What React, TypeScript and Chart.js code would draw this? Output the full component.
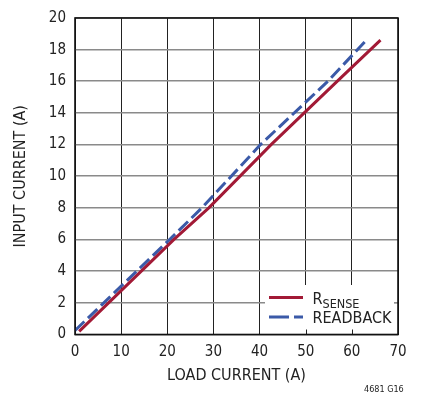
import { useEffect, useRef } from 'react';
import { Chart, registerables } from 'chart.js';

Chart.register(...registerables);

const xTicks = [0, 10, 20, 30, 40, 50, 60, 70];
const yTicks = [0, 2, 4, 6, 8, 10, 12, 14, 16, 18, 20];

const rsenseLoad = [0.9, 21.4, 29.0, 42.5, 56.8, 66.2];
const rsenseInput = [0.2, 6, 8, 12, 16, 18.6];
const readbackLoad = [0, 20.5, 27.5, 40.2, 54.8, 63.3];
const readbackInput = [0.25, 6, 8, 12, 16, 18.65];

const seriesNames = ['R', 'READBACK'];
const seriesSub = 'SENSE';
const xTitle = 'LOAD CURRENT (A)';
const yTitle = 'INPUT CURRENT (A)';
const footnote = '4681 G16';

const FONT = '"Liberation Sans Narrow", "Arial Narrow", "DejaVu Sans Condensed", sans-serif';
const RED = '#a21a36';
const BLUE = '#3b5aa8';

export default function App() {
  const ref = useRef<HTMLCanvasElement | null>(null);

  useEffect(() => {
    document.body.style.margin = '0';
    const canvas = ref.current;
    if (!canvas) return;

    const overlay = {
      id: 'overlay',
      afterDatasetsDraw(chart: any) {
        const { ctx, chartArea, scales } = chart;
        const { right, bottom } = chartArea;
        ctx.save();
        // legend box
        const bx = 265, by = 285;
        ctx.fillStyle = '#ffffff';
        ctx.fillRect(bx, by, right - bx, bottom - by);
        // small inner ticks under the legend box
        ctx.strokeStyle = '#222';
        ctx.lineWidth = 1;
        [50, 60].forEach((v) => {
          const px = Math.round(scales.x.getPixelForValue(v)) + 0.5;
          ctx.beginPath();
          ctx.moveTo(px, bottom);
          ctx.lineTo(px, bottom - 5);
          ctx.stroke();
        });
        ctx.strokeStyle = '#8a8a8a';
        ctx.lineWidth = 1.6;
        [2].forEach((v) => {
          const py = scales.y.getPixelForValue(v);
          ctx.beginPath();
          ctx.moveTo(right, py);
          ctx.lineTo(right - 4, py);
          ctx.stroke();
        });
        ctx.lineWidth = 3;
        ctx.strokeStyle = RED;
        ctx.beginPath();
        ctx.moveTo(269, 297.5);
        ctx.lineTo(303, 297.5);
        ctx.stroke();
        ctx.strokeStyle = BLUE;
        ctx.setLineDash([20, 5]);
        ctx.beginPath();
        ctx.moveTo(269, 317);
        ctx.lineTo(303, 317);
        ctx.stroke();
        ctx.setLineDash([]);
        ctx.fillStyle = '#222';
        ctx.textAlign = 'left';
        ctx.textBaseline = 'alphabetic';
        ctx.font = `16px ${FONT}`;
        ctx.fillText(seriesNames[0], 312.5, 304);
        const rw = ctx.measureText(seriesNames[0]).width;
        ctx.font = `12.5px ${FONT}`;
        ctx.fillText(seriesSub, 312.5 + rw, 308);
        ctx.font = `16px ${FONT}`;
        ctx.fillText(seriesNames[1], 312.5, 323);
        ctx.restore();
      },
      afterDraw(chart: any) {
        const { ctx, chartArea } = chart;
        const { left, top, right, bottom } = chartArea;
        ctx.save();
        ctx.strokeStyle = '#111';
        ctx.lineWidth = 1.6;
        ctx.strokeRect(left, top, right - left, bottom - top);
        ctx.fillStyle = '#222';
        ctx.font = `9px ${FONT}`;
        ctx.textAlign = 'left';
        ctx.textBaseline = 'middle';
        ctx.fillText(footnote, 364, 389.5);
        ctx.restore();
      },
    };

    const chart = new Chart(canvas, {
      type: 'scatter',
      data: {
        datasets: [
          {
            label: 'RSENSE',
            data: rsenseLoad.map((x, i) => ({ x, y: rsenseInput[i] })),
            showLine: true,
            borderColor: RED,
            borderWidth: 3,
            pointRadius: 0,
            fill: false,
          },
          {
            label: 'READBACK',
            data: readbackLoad.map((x, i) => ({ x, y: readbackInput[i] })),
            showLine: true,
            borderColor: BLUE,
            borderWidth: 3,
            borderDash: [13, 5],
            pointRadius: 0,
            fill: false,
          },
        ],
      },
      options: {
        responsive: false,
        animation: false,
        layout: { padding: { left: 0, top: 12.5, right: 25, bottom: 0 } },
        plugins: { legend: { display: false }, tooltip: { enabled: false } },
        scales: {
          x: {
            type: 'linear',
            min: 0,
            max: 70,
            afterBuildTicks: (s: any) => { s.ticks = xTicks.map((v) => ({ value: v })); },
            afterFit: (s: any) => { s.height = 84.5; },
            grid: { color: '#222', lineWidth: 1, drawTicks: false },
            border: { display: false },
            ticks: { padding: 8.5, color: '#222', font: { family: FONT, size: 15 }, maxRotation: 0 },
            title: { display: true, text: xTitle, color: '#222', font: { family: FONT, size: 16 }, padding: { top: 0, bottom: 33.5 } },
          },
          y: {
            type: 'linear',
            min: 0,
            max: 20,
            afterBuildTicks: (s: any) => { s.ticks = yTicks.map((v) => ({ value: v })); },
            afterFit: (s: any) => { s.width = 75; },
            grid: { color: '#8a8a8a', lineWidth: 1.6, drawTicks: false },
            border: { display: false },
            ticks: { padding: 9, color: '#222', font: { family: FONT, size: 15 } },
            title: { display: true, text: yTitle, color: '#222', font: { family: FONT, size: 16 }, padding: { top: 11, bottom: 0 } },
          },
        },
      },
      plugins: [overlay],
    });
    return () => chart.destroy();
  }, []);

  return (
    <div style={{ position: 'absolute', left: 0, top: 0, width: 423, height: 419, background: '#fff' }}>
      <canvas ref={ref} width={423} height={419} style={{ width: 423, height: 419 }} />
    </div>
  );
}
